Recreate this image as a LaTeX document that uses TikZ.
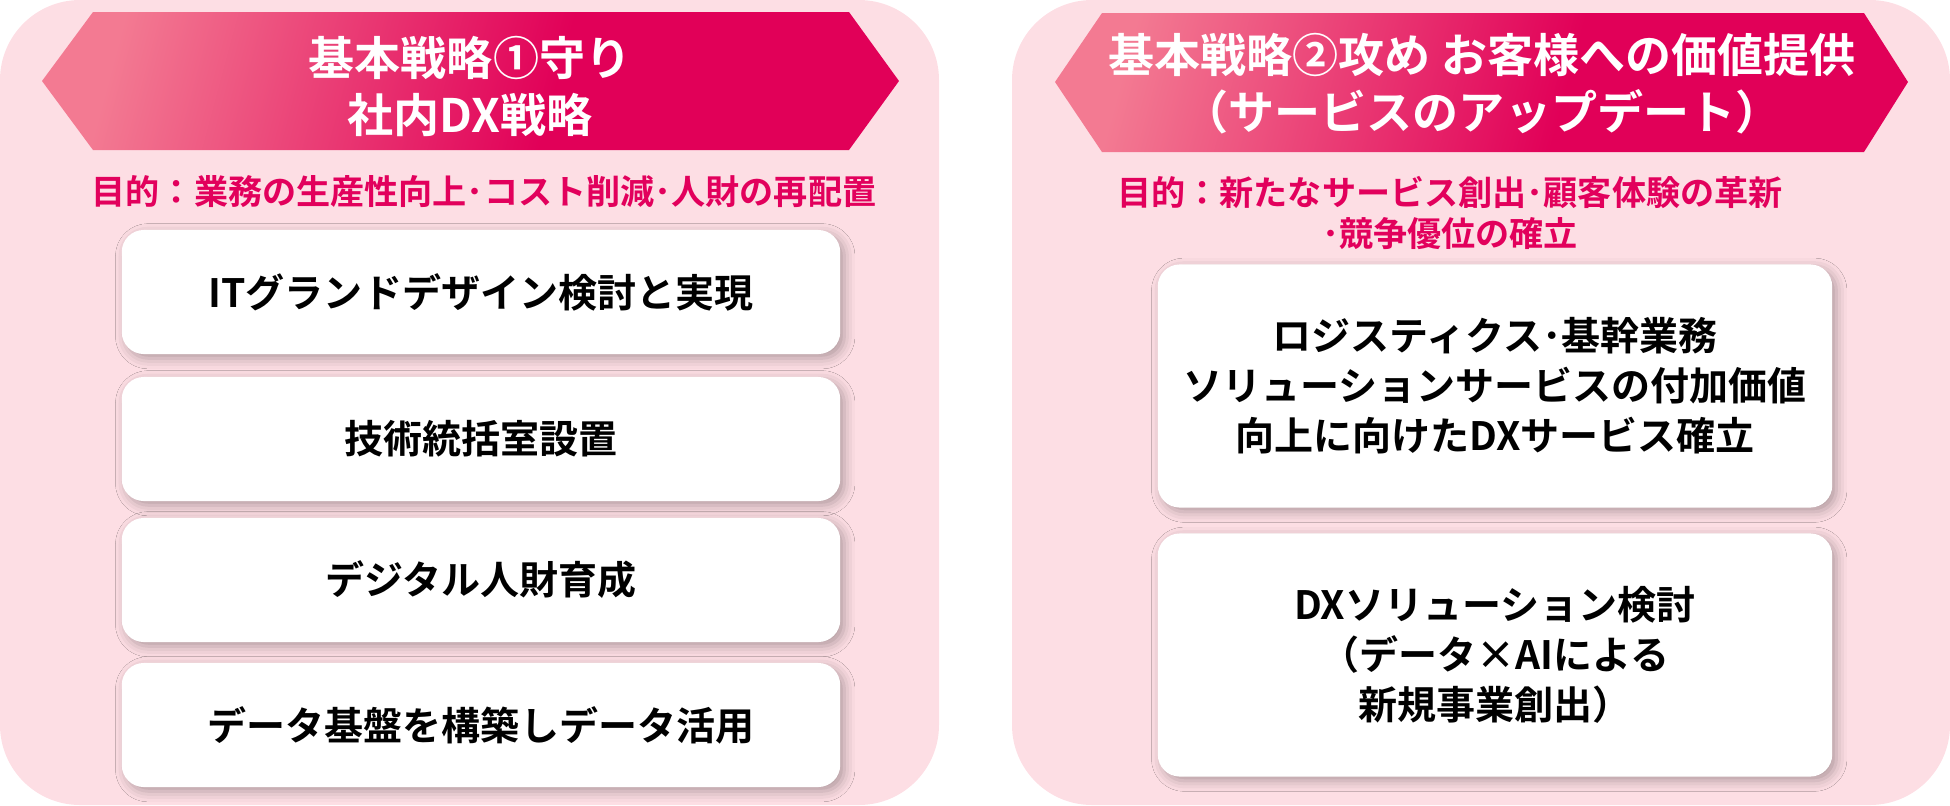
\documentclass[tikz,border=0pt]{standalone}
\usepackage{fontspec}
\setmainfont{Noto Sans CJK JP}[BoldFont={* Bold}]
\usepackage{tikz}
\usetikzlibrary{shadows.blur}
\definecolor{panelC}{RGB}{253,222,228}
\definecolor{bandA}{RGB}{243,122,146}
\definecolor{bandB}{RGB}{225,0,88}
\definecolor{goalC}{RGB}{226,0,92}
\pgfdeclarehorizontalshading{bandsh}{100bp}{color(0bp)=(bandA); color(25bp)=(bandA); color(56bp)=(bandB); color(100bp)=(bandB)}

\begin{document}
\begin{tikzpicture}[
  x=0.01cm, y=-0.01cm,
  panel/.style={fill=panelC, rounded corners=0.8cm},
  band/.style={shading=bandsh, shading angle=-15},
  ttl/.style={text=white, align=center, inner sep=0pt,
              font=\fontsize{13.1pt}{16.2pt}\selectfont\bfseries},
  goal/.style={text=goalC, align=center, inner sep=0pt,
               font=\fontsize{9.7pt}{11.4pt}\selectfont\bfseries},
  item/.style={fill=white, rounded corners=0.22cm, align=center, inner sep=0pt,
               font=\fontsize{11.1pt}{14.2pt}\selectfont\bfseries,
               blur shadow={shadow xshift=1.2pt, shadow yshift=-1.2pt,
                            shadow blur radius=3pt, shadow opacity=30}},
  lbox/.style={item, minimum width=7.18cm, minimum height=1.24cm},
  rbox/.style={item, minimum width=6.74cm, minimum height=2.43cm},
]
\useasboundingbox (0,0) rectangle (1950,805);

% ============ helper coordinates ============
\def\lx{481}   % left boxes centre
\def\rx{1495}  % right boxes centre

% ===================== Left panel =====================
\fill[panel] (0,0) rectangle (939,805);
\shade[band] (42,81) -- (93,12) -- (849,12) -- (899,81) -- (849,150) -- (93,150) -- cycle;
\node[ttl] (t1) at (470,86) {基本戦略①守り\\社内DX戦略};
\node[goal] (g1) at (484,192) {目的：業務の生産性向上･コスト削減･人財の再配置};
\node[lbox] (l1) at (\lx,292) {ITグランドデザイン検討と実現};
\node[lbox] (l2) at (\lx,439) {技術統括室設置};
\node[lbox] (l3) at (\lx,580) {デジタル人財育成};
\node[lbox] (l4) at (\lx,725) {データ基盤を構築しデータ活用};

% ===================== Right panel =====================
\fill[panel] (1012,0) rectangle (1950,805);
\shade[band] (1055,82) -- (1102,13) -- (1864,13) -- (1908,82) -- (1864,152) -- (1102,152) -- cycle;
\node[ttl] (t2) at (1482,84) {基本戦略②攻め お客様への価値提供\\（サービスのアップデート）};
\node[goal] (g2) at (1450,213) {目的：新たなサービス創出･顧客体験の革新\\･競争優位の確立};
\node[rbox] (r1) at (\rx,386) {ロジスティクス･基幹業務\\ソリューションサービスの付加価値\\向上に向けたDXサービス確立};
\node[rbox] (r2) at (\rx,655) {DXソリューション検討\\（データ×AIによる\\新規事業創出）};

\end{tikzpicture}
\end{document}
